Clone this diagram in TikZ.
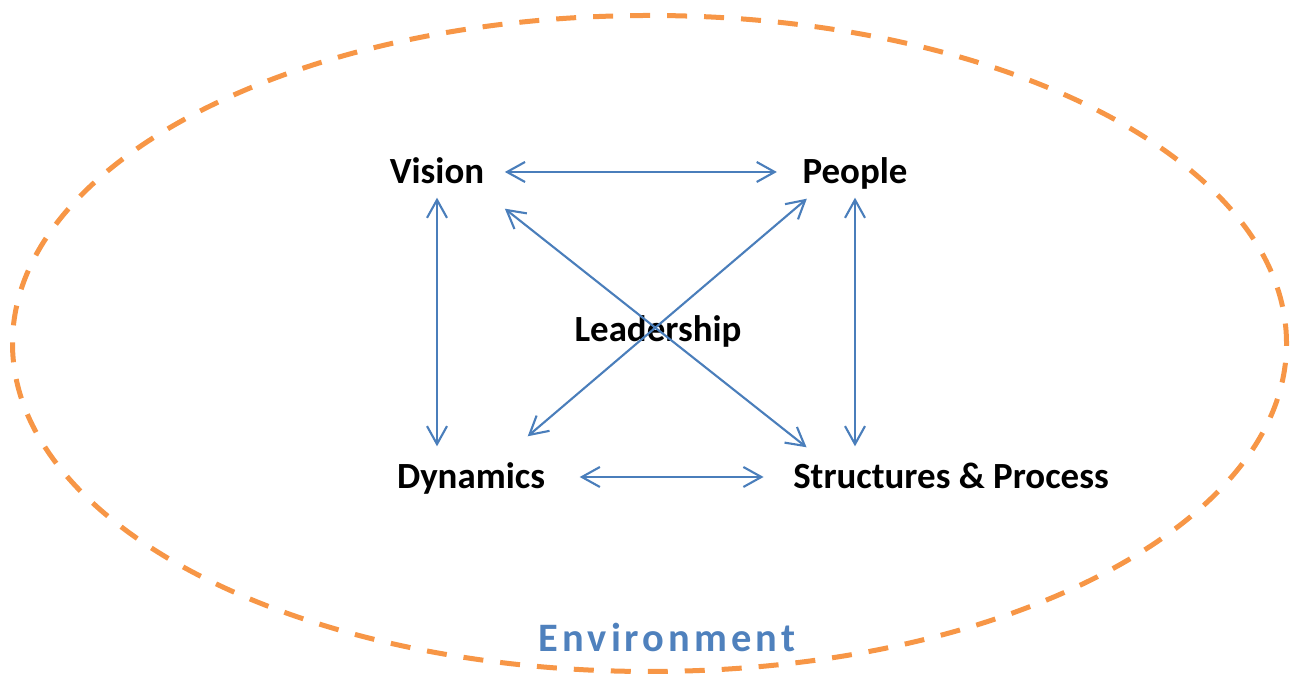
\documentclass[tikz,border=0pt]{standalone}
\usepackage{fontspec}
\setmainfont{Carlito}
\usepackage{xcolor}
\usepackage{tikz}
\usetikzlibrary{arrows.meta, calc}

\definecolor{envorange}{HTML}{F79646}
\definecolor{linkblue}{HTML}{4A7EBB}
\definecolor{envblue}{HTML}{4F81BD}

\begin{document}
\begin{tikzpicture}[
    topic/.style={font=\fontsize{10.5}{12}\selectfont\bfseries, text height=0.32cm, text depth=0.08cm, inner sep=0.05cm},
    link/.style={draw=linkblue, line width=0.6pt, {Straight Barb[length=0.18cm, width=0.2cm]}-{Straight Barb[length=0.18cm, width=0.2cm]}},
    envline/.style={draw=envorange, line width=0.05cm, dash pattern=on 0.2cm off 0.17cm}
]
    \useasboundingbox (0,0) rectangle (12.97,6.85);
    % environment boundary
    \draw[envline] (6.495,3.415) ellipse [x radius=6.37, y radius=3.28];
    \node[font=\fontsize{11.5}{13}\selectfont\bfseries\addfontfeatures{LetterSpace=10}, text=envblue] (env) at (6.67,0.48) {Environment};

    \node[topic] (vision) at (4.37,5.13) {Vision};
    \node[topic] (people) at (8.55,5.13) {People};
    \node[topic] (lead) at (6.58,3.55) {Leadership};
    \node[topic] (dyn) at (4.71,2.08) {Dynamics};
    \node[topic] (struct) at (9.51,2.08) {Structures \& Process};

    \draw[link, shorten <=0.15cm, shorten >=0.2cm] (vision.east) -- (people.west);
    \draw[link, shorten <=0.29cm, shorten >=0.24cm] (dyn.east) -- (struct.west);
    \draw[link, shorten >=0.05cm] (vision.south) -- (vision.south |- dyn.north);
    \draw[link, shorten >=0.05cm] (people.south) -- (people.south |- struct.north);
    \draw[link] ([xshift=0.15cm, yshift=-0.11cm]vision.south east) -- ([xshift=0.19cm, yshift=0.04cm]struct.north west);
    \draw[link] ([xshift=0.1cm, yshift=-0.01cm]people.south west) -- ([xshift=-0.23cm, yshift=0.15cm]dyn.north east);
\end{tikzpicture}
\end{document}
